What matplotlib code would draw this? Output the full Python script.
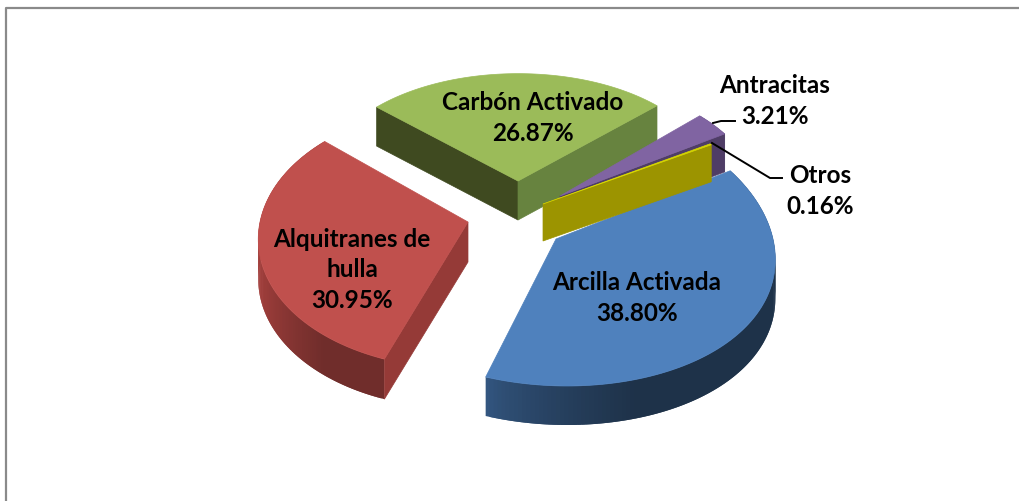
import numpy as np
import matplotlib
matplotlib.use('Agg')
import matplotlib.pyplot as plt
from matplotlib.colors import to_rgb

plt.rcParams['font.family'] = ['Lato', 'DejaVu Sans']

# datos, en sentido horario desde el corte Otros/Arcilla
names = ['Arcilla Activada', 'Alquitranes de\nhulla', 'Carbón Activado', 'Antracitas', 'Otros']
values = [38.80, 30.95, 26.87, 3.21, 0.16]

top_colors = ['#4f81bd', '#c0504d', '#9bbb59', '#8064a2', '#d8d800']
rim_left = ['#335680', '#a5403d', '#3f4a20', '#4f3d66', '#a09800']
rim_right = ['#1e3249', '#702d2b', '#3f4a20', '#4f3d66', '#a09800']
face_a = [None, '#953a37', '#3f4a20', None, None]
face_b = [None, None, '#67833f', '#4f3d66', '#9c9400']

# vertice de cada sector en pixeles, radios y ajuste de perspectiva
apex = [(556, 240), (468, 223), (518, 182), (560, 197), (543, 205)]
rad_x = [217, 208, 200, 201, 204]
rad_y = [140, 132, 122, 130, 126]
shear = [-10, 6, 0, 0, 0]
persp_x = 0.10
persp_y = [0.05, 0.11, 0.12, 0.12, 0.12]
depth = [39, 40, 39, 38, 37]
rim = [True, True, False, True, False]
start = 30.0


def project(i, ang):
    u = np.cos(np.radians(ang))
    v = np.sin(np.radians(ang))
    x = apex[i][0] + (rad_x[i] * u + shear[i] * v) / (1 + persp_x * v)
    y = apex[i][1] - rad_y[i] * v * (1 - persp_y[i] * v)
    return x, y


fig = plt.figure(figsize=(10.2, 5.02), dpi=100)
ax = fig.add_axes([0, 0, 1, 1])
ax.set_xlim(0, 1020)
ax.set_ylim(502, 0)
ax.axis('off')

# marco (solo arriba e izquierda)
ax.plot([6.5, 6.5, 1020], [502, 8.8, 8.8], color='#8a8a8a', lw=1.6, zorder=1)

# limites de cada sector a partir de los valores
spans = np.array(values) / sum(values) * 360
ends = start - np.concatenate([[0], np.cumsum(spans)[:-1]])
begins = ends - spans

order = [2, 1, 0, 3, 4]
for z, i in enumerate(order):
    z = z + 2
    ang = np.linspace(begins[i], ends[i], 140)
    xs, ys = project(i, ang)
    ax0, ay0 = apex[i]
    d = depth[i]

    # borde curvo con degradado horizontal
    if rim[i]:
        c0 = np.array(to_rgb(rim_left[i]))
        c1 = np.array(to_rgb(rim_right[i]))
        xmin = xs.min()
        xmax = xs.max()
        for k in range(len(ang) - 2):
            t = ((xs[k] - xmin) / (xmax - xmin)) ** 0.7
            col = c0 + (c1 - c0) * min(t * 1.6, 1)
            ax.fill([xs[k], xs[k + 2], xs[k + 2], xs[k]],
                    [ys[k], ys[k + 2], ys[k + 2] + d, ys[k] + d],
                    color=col, lw=0, zorder=z)

    # caras radiales
    if face_a[i]:
        ax.fill([ax0, xs[-1], xs[-1], ax0], [ay0, ys[-1], ys[-1] + d, ay0 + d],
                color=face_a[i], lw=0.5, zorder=z)
    if face_b[i]:
        ax.fill([ax0, xs[0], xs[0], ax0], [ay0, ys[0], ys[0] + d, ay0 + d],
                color=face_b[i], lw=0.5, zorder=z)

    # cara superior
    ax.fill(np.r_[ax0, xs], np.r_[ay0, ys], color=top_colors[i], lw=0.5, zorder=z + 0.5)

# lineas guia
ax.plot([713, 721, 735], [124, 122, 122], color='black', lw=1.4, zorder=10)
ax.plot([712, 770, 782], [144, 179, 179], color='black', lw=1.4, zorder=10)

# etiquetas
label_pos = [(637, 298), (352, 270), (533, 118), (775, 101), (820, 191)]
for i in range(len(names)):
    ax.text(label_pos[i][0], label_pos[i][1], '%s\n%.2f%%' % (names[i], values[i]),
            ha='center', va='center', fontsize=17.5, fontweight='bold',
            color='black', linespacing=1.4, zorder=11)

fig.savefig('out.png', dpi=100)
